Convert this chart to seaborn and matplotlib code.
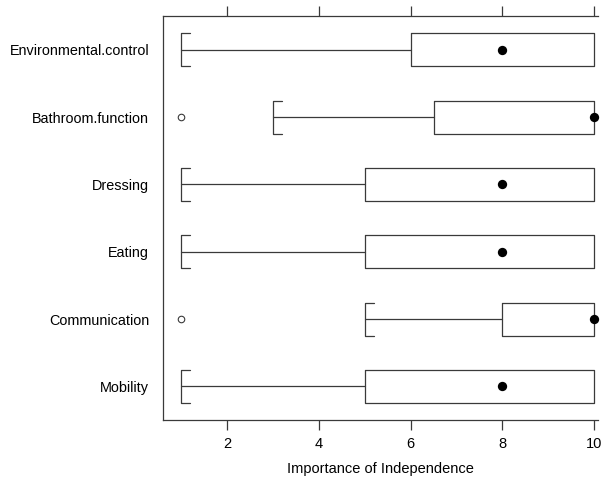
import numpy as np
import matplotlib
matplotlib.use("Agg")
import matplotlib.pyplot as plt
import seaborn as sns

# data (top row first)
categories = ["Environmental.control", "Bathroom.function", "Dressing",
              "Eating", "Communication", "Mobility"]
whisker_low = [1, 3, 1, 1, 5, 1]
q1 = [6, 6.5, 5, 5, 8, 5]
medians = [8, 10, 8, 8, 10, 8]
q3 = [10, 10, 10, 10, 10, 10]
whisker_high = [10, 10, 10, 10, 10, 10]
outlier_rows = ["Bathroom.function", "Communication"]
outlier_values = [1, 1]

sns.set_theme(style="white")
plt.rcParams["font.family"] = ["Liberation Sans", "DejaVu Sans"]
plt.rcParams["text.color"] = "black"
plt.rcParams["xtick.labelcolor"] = "black"
plt.rcParams["ytick.labelcolor"] = "black"
plt.rcParams["axes.labelcolor"] = "black"

line_col = "#3a3a3a"
box_h = 0.49
pos = np.arange(len(categories))

fig = plt.figure(figsize=(6.03, 4.78), dpi=100)
ax = fig.add_axes([0.2703, 0.1213, 0.7214, 0.8452])

# boxes + whiskers
stats = [dict(whislo=lo, q1=a, med=m, q3=b, whishi=hi, fliers=[])
         for lo, a, m, b, hi in zip(whisker_low, q1, medians, q3, whisker_high)]
ax.bxp(stats, positions=pos, widths=box_h, orientation="horizontal",
       showcaps=False, showfliers=False, patch_artist=False,
       boxprops=dict(color=line_col, linewidth=0.9),
       whiskerprops=dict(color=line_col, linewidth=0.9),
       medianprops=dict(linewidth=0))

# lattice-style bracket caps on the lower whisker
for p, lo in zip(pos, whisker_low):
    top, bot = p - box_h / 2, p + box_h / 2
    ax.plot([lo + 0.2, lo, lo, lo + 0.2], [top, top, bot, bot],
            color=line_col, linewidth=0.9)

# medians as filled dots
sns.scatterplot(x=medians, y=pos, ax=ax, color="black", s=45,
                edgecolor="black", linewidth=0, zorder=5, clip_on=False)

# outliers as open circles
out_pos = [categories.index(c) for c in outlier_rows]
sns.scatterplot(x=outlier_values, y=out_pos, ax=ax, facecolor="white",
                edgecolor=line_col, s=22, linewidth=0.8, zorder=5)

ax.set_xlim(0.61, 10.08)
ax.set_ylim(len(categories) - 0.5, -0.5)
ax.set_yticks(pos)
ax.set_yticklabels(categories)
ax.set_xticks([2, 4, 6, 8, 10])
ax.tick_params(axis="x", which="both", bottom=True, top=True, labeltop=False,
               direction="out", length=7, width=0.9, color=line_col,
               labelsize=10.5, pad=5, labelcolor="black")
ax.tick_params(axis="y", length=0, labelsize=10.4, pad=10, labelcolor="black")
ax.set_xlabel("Importance of Independence", fontsize=10.5, labelpad=8,
              color="black")
ax.set_ylabel("")

for side in ["left", "top", "bottom"]:
    ax.spines[side].set_color(line_col)
    ax.spines[side].set_linewidth(0.9)
ax.spines["right"].set_visible(False)

fig.savefig("out.png", dpi=100)
